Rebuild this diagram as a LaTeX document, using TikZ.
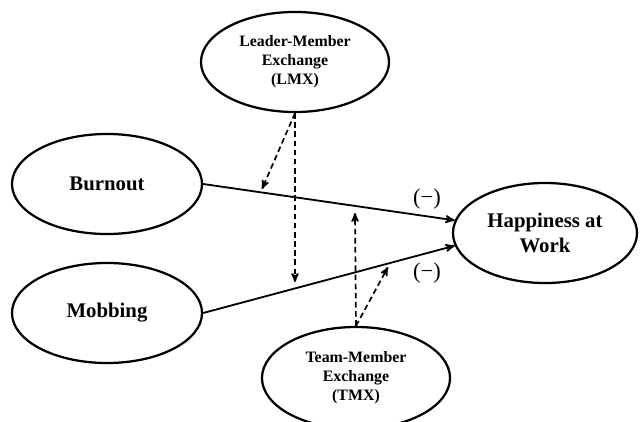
\documentclass[tikz,border=0pt]{standalone}
\usepackage{fontspec}
\setmainfont{Liberation Serif}
\usetikzlibrary{arrows,shapes.geometric,positioning}
\tikzset{
	>=stealth',
	construct/.style={
		draw=black,
		ellipse,
		line width=1.6pt,
		inner sep=0pt,
		align=center,
		font=\fontsize{14.8}{17.8}\selectfont\bfseries,
		minimum width=4.75cm,
		minimum height=2.5cm
	},
	moderator/.style={
		construct,
		font=\fontsize{11.3}{13.5}\selectfont\bfseries,
		minimum width=4.7cm
	}
}

\begin{document}
\begin{tikzpicture}[x=0.025cm,y=-0.025cm]
  \tikzset{
    path/.style={line width=1.3pt, ->},
    effect/.style={line width=1.2pt, ->, dash pattern=on 4pt off 2.5pt},
    sign/.style={font=\fontsize{16}{16}\selectfont}
  }
  \useasboundingbox (0,0) rectangle (640,422);

  \node[construct] (burnout) at (107,184) {Burnout};
  \node[construct] (mobbing) at (107,313) {Mobbing};
  \node[construct, minimum width=4.6cm] (happy) at (545,233) {Happiness at\\Work};

  \node[moderator] (lmx) at (295,62) {Leader-Member\\Exchange\\(LMX)};
  \node[moderator, minimum height=2.55cm] (tmx) at (356,378) {Team-Member\\Exchange\\(TMX)};

  \draw[path] (burnout.east) -- (happy.172);
  \draw[path] (mobbing.east) -- (happy.188);

  \node[sign] (negb) at (427,199) {(−)};
  \node[sign] (negm) at (427,273) {(−)};

  \coordinate (lmxb) at (262,189);
  \coordinate (lmxm) at (295,282);
  \coordinate (tmxb) at (355,213);
  \coordinate (tmxm) at (388,267);

  \draw[effect] (lmx.south) -- (lmxb);
  \draw[effect] (lmx.south) -- (lmxm);
  \draw[effect] (tmx.north) -- (tmxb);
  \draw[effect] (tmx.north) -- (tmxm);
\end{tikzpicture}
\end{document}
